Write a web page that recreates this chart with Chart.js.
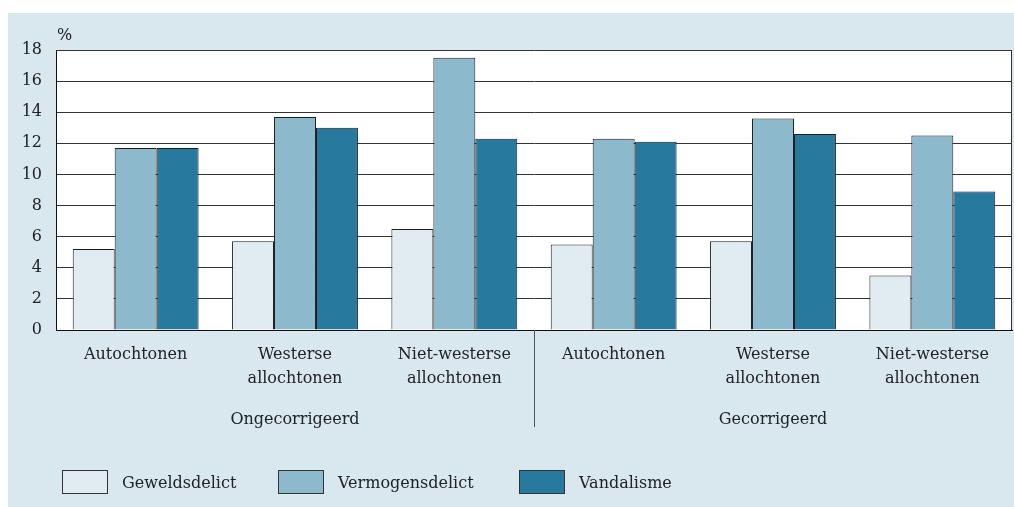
<!DOCTYPE html>
<html lang="nl">
<head>
<meta charset="UTF-8">
<title>Delicttype naar herkomst</title>
<script src="https://cdn.jsdelivr.net/npm/chart.js"></script>
<style>
  html, body { margin: 0; padding: 0; background: #fff; }
  #wrap { position: relative; width: 1014px; height: 507px; overflow: hidden; }
  #panel { position: absolute; left: 8px; top: 13px; right: 0; bottom: 0; background: #d9e7ee; }
  #chart { position: absolute; left: 0; top: 0; }
  #legend { position: absolute; left: 62px; top: 470px; font-family: "DejaVu Serif", serif; font-size: 16px; color: #222; }
  #legend .item { display: inline-flex; align-items: center; }
  #legend .box { width: 44px; height: 22px; border: 1px solid #333; margin-right: 14px; }
</style>
</head>
<body>
<div id="wrap">
  <div id="panel"></div>
  <canvas id="chart" width="1014" height="507"></canvas>
  <div id="legend"></div>
</div>

<script>
  // categories and groups
  const categories = [
    'Autochtonen', ['Westerse', 'allochtonen'], ['Niet-westerse', 'allochtonen'],
    'Autochtonen', ['Westerse', 'allochtonen'], ['Niet-westerse', 'allochtonen']
  ];
  const groups = ['Ongecorrigeerd', 'Gecorrigeerd'];

  // percentages per delicttype
  const geweld = [5.2, 5.7, 6.5, 5.5, 5.7, 3.5];
  const vermogen = [11.7, 13.7, 17.5, 12.3, 13.6, 12.5];
  const vandalisme = [11.7, 13.0, 12.3, 12.1, 12.6, 8.9];

  const seriesNames = ['Geweldsdelict', 'Vermogensdelict', 'Vandalisme'];
  const seriesColors = ['#e1ecf2', '#8db9cc', '#27799e'];
  const legendWidths = [216, 241, 160];

  const fontFam = '"DejaVu Serif", serif';
  const ink = '#222';

  // white plot background, frame, % sign and group divider
  const decor = {
    id: 'decor',
    beforeDraw(chart) {
      const a = chart.chartArea, c = chart.ctx;
      c.save();
      c.fillStyle = '#fff';
      c.fillRect(a.left, a.top, a.right - a.left, a.bottom - a.top);
      c.restore();
    },
    afterDraw(chart) {
      const a = chart.chartArea, c = chart.ctx, x = chart.scales.x;
      c.save();
      c.strokeStyle = '#333';
      c.lineWidth = 1;
      c.beginPath();
      c.moveTo(Math.round(a.right) - 0.5, a.top);
      c.lineTo(Math.round(a.right) - 0.5, a.bottom);
      c.stroke();
      const mid = Math.round((x.getPixelForValue(2) + x.getPixelForValue(3)) / 2) + 0.5;
      c.beginPath();
      c.moveTo(mid, a.bottom);
      c.lineTo(mid, 427);
      c.strokeStyle = '#555';
      c.stroke();
      c.fillStyle = ink;
      c.font = '16px ' + fontFam;
      c.textAlign = 'left';
      c.textBaseline = 'alphabetic';
      c.fillText('%', a.left + 1, a.top - 10);
      c.restore();
    }
  };

  const chart = new Chart(document.getElementById('chart'), {
    type: 'bar',
    data: {
      labels: categories,
      datasets: [geweld, vermogen, vandalisme].map((d, i) => ({
        label: seriesNames[i],
        data: d,
        backgroundColor: seriesColors[i],
        borderColor: '#1e1e1e',
        borderWidth: 1,
        categoryPercentage: 0.79,
        barPercentage: 1.0,
        xAxisID: 'x'
      }))
    },
    options: {
      responsive: false,
      animation: false,
      layout: { padding: { top: 50, right: 2, left: 0, bottom: 57 } },
      plugins: { legend: { display: false }, tooltip: { enabled: false } },
      scales: {
        x: {
          position: 'bottom',
          grid: { display: false },
          border: { display: true, color: '#111', width: 1 },
          ticks: {
            autoSkip: false, maxRotation: 0, padding: 5, color: ink,
            font: { family: fontFam, size: 16, lineHeight: 1.5 }
          },
          afterFit(s) { s.height = 60; }
        },
        x2: {
          position: 'bottom',
          type: 'category',
          labels: groups,
          offset: true,
          grid: { display: false },
          border: { display: false },
          ticks: { padding: 10, color: ink, font: { family: fontFam, size: 16, lineHeight: 1.5 } },
          afterFit(s) { s.height = 60; }
        },
        y: {
          min: 0, max: 18,
          grid: { color: '#333', lineWidth: 1, drawTicks: false },
          border: { display: true, color: '#111', width: 1 },
          ticks: { stepSize: 2, padding: 14, color: ink, font: { family: fontFam, size: 16 } },
          afterFit(s) { s.width = 56; }
        }
      }
    },
    plugins: [decor]
  });

  // legend built from the datasets
  const legend = document.getElementById('legend');
  chart.data.datasets.forEach((ds, i) => {
    const item = document.createElement('span');
    item.className = 'item';
    item.style.width = legendWidths[i] + 'px';
    const box = document.createElement('span');
    box.className = 'box';
    box.style.background = ds.backgroundColor;
    item.appendChild(box);
    item.appendChild(document.createTextNode(ds.label));
    legend.appendChild(item);
  });
</script>
</body>
</html>
